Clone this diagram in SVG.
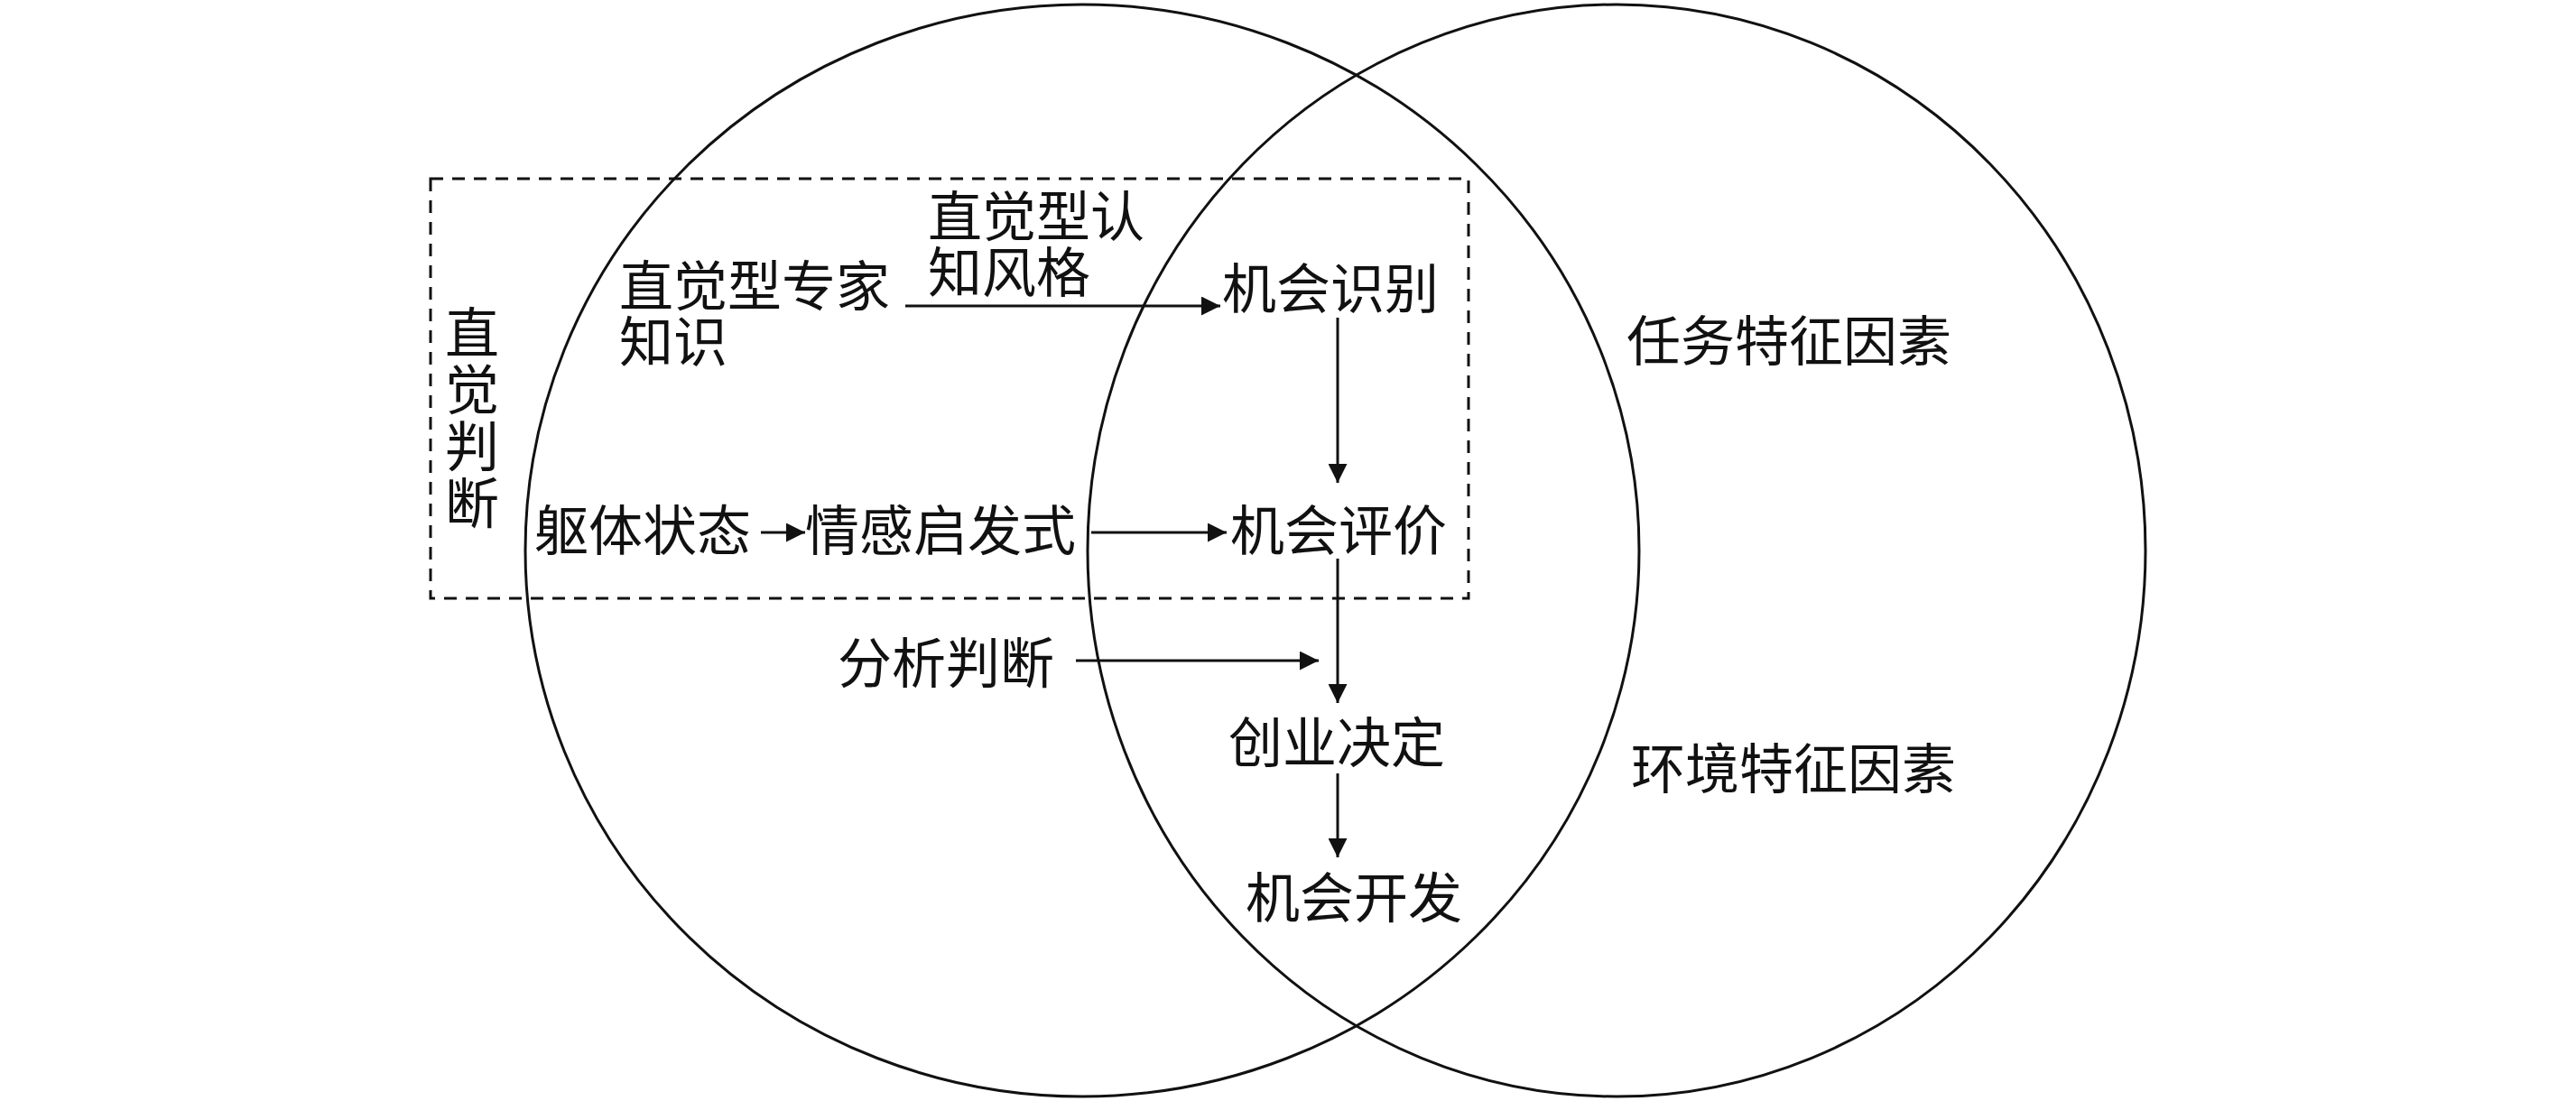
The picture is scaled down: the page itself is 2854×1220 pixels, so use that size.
<svg xmlns="http://www.w3.org/2000/svg" width="2854" height="1220" viewBox="0 0 2854 1220">
<style>
text{font-family:"Noto Sans CJK SC","Noto Sans",sans-serif;font-size:60px;fill:#111}
.c{fill:none;stroke:#111;stroke-width:3}
.a{stroke:#111;stroke-width:3;fill:none;marker-end:url(#ar)}
</style>
<defs><marker id="ar" viewBox="0 0 10 10" refX="10" refY="5" markerWidth="7" markerHeight="7" orient="auto"><path d="M0,0L10,5L0,10z" fill="#111"/></marker></defs>
<rect width="2854" height="1220" fill="#fff"/>
<g id="circles">
<ellipse class="c" cx="1199" cy="610" rx="617" ry="605"/>
<ellipse class="c" cx="1791" cy="610" rx="586" ry="605"/>
<rect x="477" y="198" width="1150" height="465" fill="none" stroke="#111" stroke-width="3" stroke-dasharray="14,10"/>
</g>
<g id="connectors">
<line class="a" x1="1003" y1="339" x2="1352" y2="339"/>
<line class="a" x1="1482" y1="352" x2="1482" y2="535"/>
<line class="a" x1="843" y1="590" x2="892" y2="590"/>
<line class="a" x1="1209" y1="590" x2="1359" y2="590"/>
<line class="a" x1="1482" y1="619" x2="1482" y2="779"/>
<line class="a" x1="1192" y1="732" x2="1461" y2="732"/>
<line class="a" x1="1482" y1="857" x2="1482" y2="950"/>
</g>
<g id="n-style"><text x="1028" y="262">直觉型认</text><text x="1028" y="324">知风格</text></g>
<g id="n-expert"><text x="686" y="339">直觉型专家</text><text x="686" y="401">知识</text></g>
<g id="n-recog"><text x="1354" y="342">机会识别</text></g>
<g id="n-intuit"><text x="493" y="391">直</text><text x="493" y="454">觉</text><text x="493" y="517">判</text><text x="493" y="580">断</text></g>
<g id="n-body"><text x="592" y="610">躯体状态</text></g>
<g id="n-affect"><text x="892" y="610">情感启发式</text></g>
<g id="n-eval"><text x="1363" y="610">机会评价</text></g>
<g id="n-anal"><text x="928" y="757">分析判断</text></g>
<g id="n-dec"><text x="1361" y="845">创业决定</text></g>
<g id="n-dev"><text x="1380" y="1017">机会开发</text></g>
<g id="n-task"><text x="1802" y="400">任务特征因素</text></g>
<g id="n-env"><text x="1807" y="874">环境特征因素</text></g>
</svg>
